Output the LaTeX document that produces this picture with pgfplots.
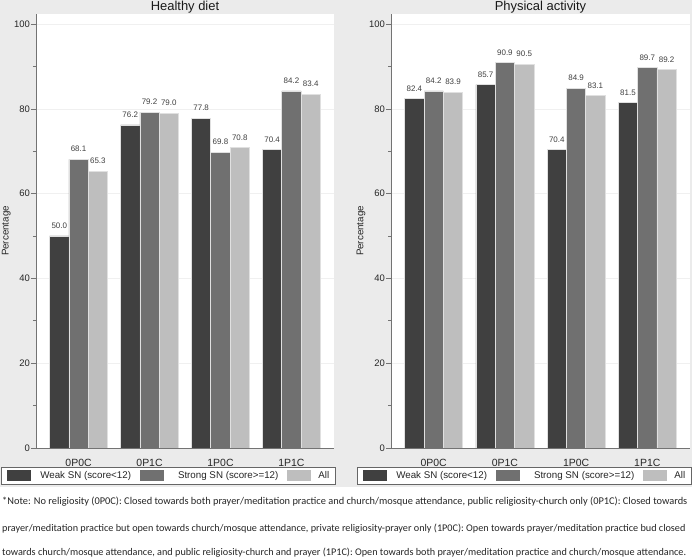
\documentclass[border=0pt]{standalone}
\usepackage{pgfplots}
\pgfplotsset{compat=1.18}
\usepackage{fontspec}
\setmainfont{Liberation Sans}
\newfontfamily\notefont{Carlito}
\definecolor{bgray}{HTML}{EBEBEB}
\definecolor{cdark}{HTML}{404040}
\definecolor{cmid}{HTML}{707070}
\definecolor{clight}{HTML}{BEBEBE}

\pgfplotsset{
  panel/.style={
    scale only axis, height=434bp,
    ymin=0, ymax=102.36, xmin=-0.6, xmax=3.6,
    axis x line*=bottom, axis y line*=left,
    axis line style={draw=black!55, line width=0.7bp},
    axis background/.style={fill=white},
    /pgf/number format/assume math mode=true,
    ytick={0,20,...,100}, minor ytick={10,30,...,90},
    ymajorgrids, major grid style={draw=black!6, line width=0.6bp},
    tick align=outside, major tick length=5bp, minor tick length=3bp,
    every tick/.style={draw=black!55, line width=0.6bp},
    xtick={0,1,2,3}, xticklabels={0P0C,0P1C,1P0C,1P1C},
    xtick style={draw=none},
    xticklabel style={font=\fontsize{10.5}{11}\selectfont, text=black!85, inner sep=0pt, yshift=-6bp},
    yticklabel style={font=\fontsize{9.5}{10}\selectfont, text=black!85, inner sep=1bp},
    ylabel={Percentage},
    every axis y label/.style={at={(axis description cs:-0.1,0.5)}, rotate=90, anchor=center, font=\fontsize{9.8}{10}\selectfont, text=black!85},
    every axis title/.style={font=\fontsize{13}{13}\selectfont, text=black!90, at={(axis description cs:0.5,1)}, anchor=base, yshift=3.5bp, inner sep=0pt},
    ybar=0pt, bar width=19.3bp,
    every axis plot/.append style={draw=white!88!black, line width=0.7bp},
    nodes near coords={\pgfmathprintnumber[fixed,fixed zerofill,precision=1,assume math mode=true]{\pgfplotspointmeta}},
    every node near coord/.append style={font=\fontsize{8}{8}\selectfont, text=black!75, inner sep=0pt, anchor=south, yshift=7bp},
    legend columns=3,
    legend image code/.code={\path[#1,draw=none] (0bp,-5.5bp) rectangle (24bp,5.5bp);},
    legend style={anchor=north west, draw=black!60, fill=white, line width=0.6bp,
      inner xsep=6bp, inner ysep=3bp, font=\fontsize{9.8}{10}\selectfont, text=black!85,
      nodes={inner sep=0pt},
      /tikz/column 1/.style={column sep=9bp},
      /tikz/column 2/.style={column sep=9bp},
      /tikz/column 3/.style={column sep=14bp},
      /tikz/column 4/.style={column sep=9bp},
      /tikz/column 5/.style={column sep=7bp}},
    legend cell align=left,
  }
}

\begin{document}
\begin{tikzpicture}
\fill[white] (0,0) rectangle (692bp,558bp);
\fill[bgray] (0,71bp) rectangle (692bp,558bp);

\begin{axis}[panel, width=298bp, at={(36bp,110bp)}, anchor=south west,
  title={Healthy diet},
  legend style={at={(-0.1174,-0.0438)}}]
\addplot[fill=cdark] coordinates {(0,50.0) (1,76.2) (2,77.8) (3,70.4)};
\addplot[fill=cmid] coordinates {(0,68.1) (1,79.2) (2,69.8) (3,84.2)};
\addplot[fill=clight] coordinates {(0,65.3) (1,79.0) (2,70.8) (3,83.4)};
\addlegendentry{Weak SN (score<12)}
\addlegendentry{Strong SN (score>=12)}
\addlegendentry{All}
\end{axis}

\begin{axis}[panel, width=299bp, at={(391bp,110bp)}, anchor=south west,
  title={Physical activity},
  legend style={at={(-0.1137,-0.0438)}}]
\addplot[fill=cdark] coordinates {(0,82.4) (1,85.7) (2,70.4) (3,81.5)};
\addplot[fill=cmid] coordinates {(0,84.2) (1,90.9) (2,84.9) (3,89.7)};
\addplot[fill=clight] coordinates {(0,83.9) (1,90.5) (2,83.1) (3,89.2)};
\addlegendentry{Weak SN (score<12)}
\addlegendentry{Strong SN (score>=12)}
\addlegendentry{All}
\end{axis}

\begin{scope}[every node/.style={anchor=base west, inner sep=0pt, text=black!85}]
\node[font=\notefont\fontsize{10.4}{11}\selectfont] at (2bp,53.5bp) {*Note: No religiosity (0P0C): Closed towards both prayer/meditation practice and church/mosque attendance, public religiosity-church only (0P1C): Closed towards};
\node[font=\notefont\fontsize{10.25}{11}\selectfont] at (2bp,27bp) {prayer/meditation practice but open towards church/mosque attendance, private religiosity-prayer only (1P0C): Open towards prayer/meditation practice bud closed};
\node[font=\notefont\fontsize{10.25}{11}\selectfont] at (2bp,2.6bp) {towards church/mosque attendance, and public religiosity-church and prayer (1P1C): Open towards both prayer/meditation practice and church/mosque attendance.};
\end{scope}

\pgfresetboundingbox
\path[use as bounding box] (0,0) rectangle (692bp,558bp);
\end{tikzpicture}
\end{document}
